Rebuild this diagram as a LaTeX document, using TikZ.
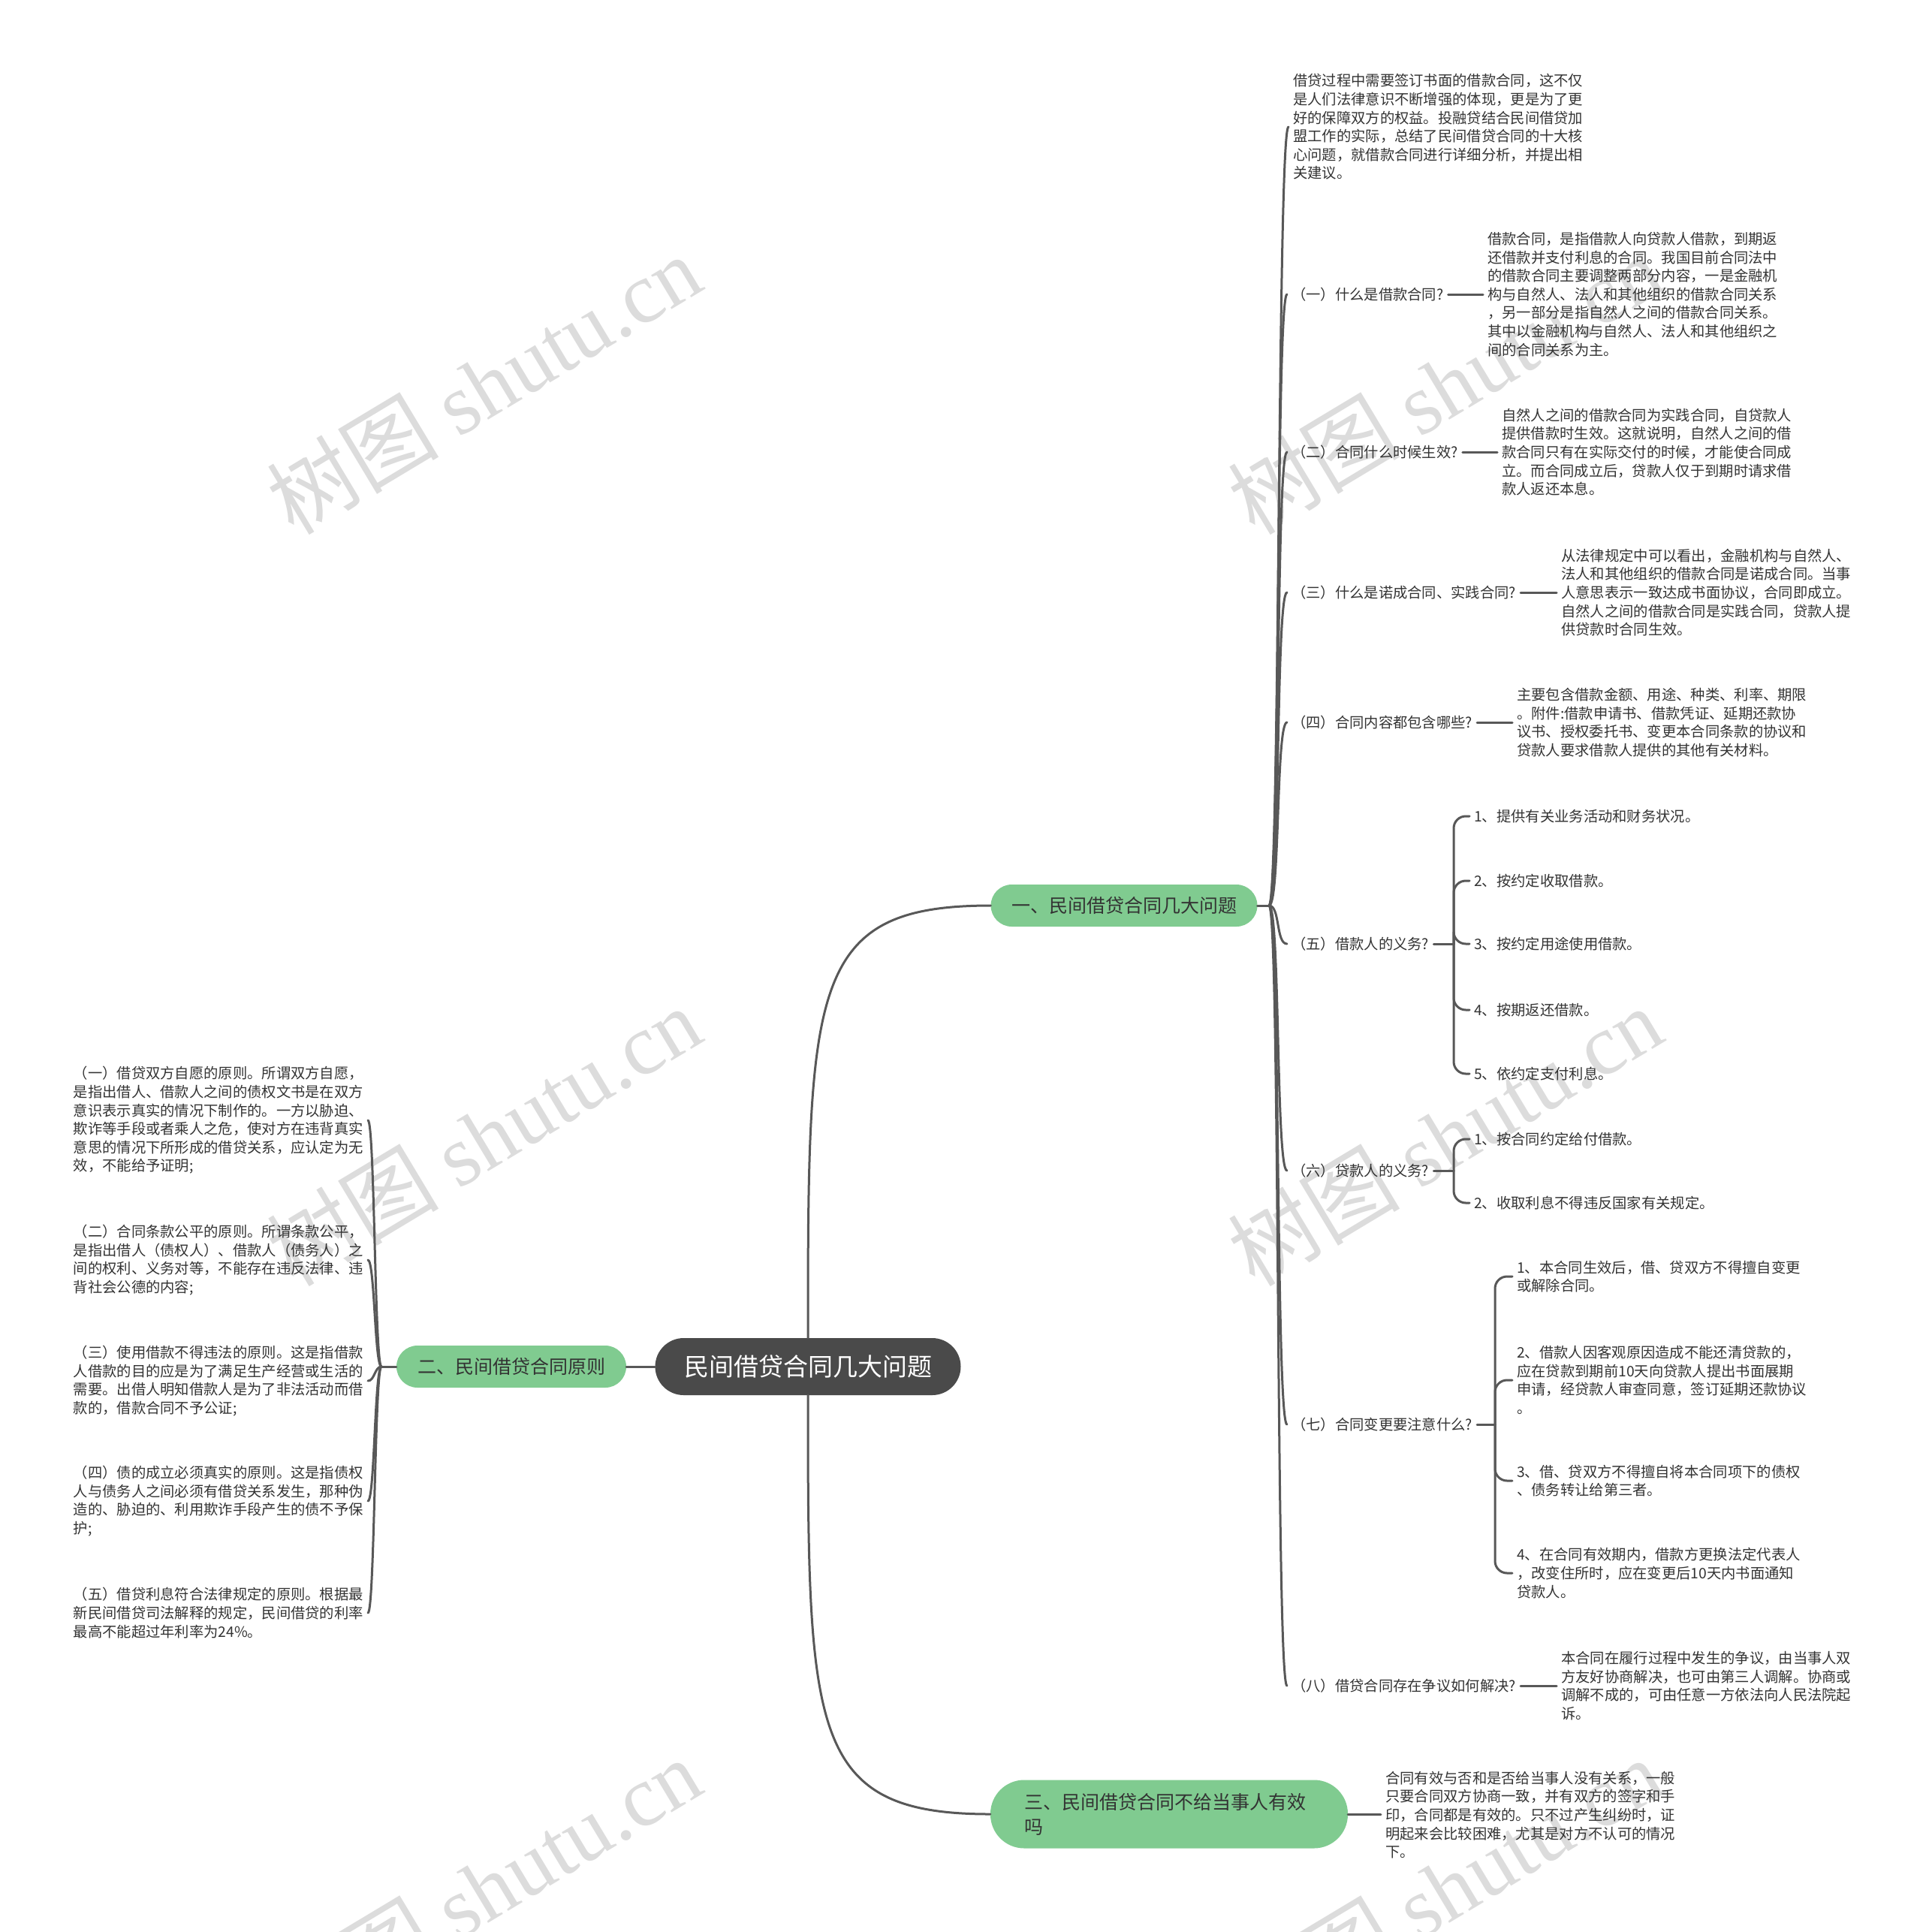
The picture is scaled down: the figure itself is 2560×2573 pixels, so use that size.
\documentclass[tikz,border=0pt]{standalone}
\usepackage{fontspec}
\setmainfont{Noto Sans CJK SC}
\newfontfamily\wmserif{Liberation Serif}
\usetikzlibrary{positioning, calc}
\definecolor{cgreen}{HTML}{80CB90}
\definecolor{cdark}{HTML}{4A4A4A}
\definecolor{cline}{HTML}{585858}
\definecolor{ctext}{HTML}{333333}
\definecolor{cmark}{HTML}{DCDCDC}
\newcommand\smalltxt{\fontsize{19.3pt}{24.6pt}\selectfont}
\newcommand\midtxt{\fontsize{25pt}{33pt}\selectfont}
\newcommand\bigtxt{\fontsize{33pt}{40pt}\selectfont}

\begin{document}
\begin{tikzpicture}[
  x=1pt, y=-1pt,
  root/.style={fill=cdark, text=white, rounded corners=38pt,
               minimum width=407pt, minimum height=76pt, font=\bigtxt},
  topic/.style={fill=cgreen, text=ctext, rounded corners=28pt,
                minimum height=56pt, font=\midtxt},
  ask/.style={font=\smalltxt, text=ctext, anchor=west, inner xsep=6pt},
  note/.style={font=\smalltxt, text=ctext, anchor=west, align=left,
               inner xsep=6pt, inner ysep=2pt},
  leaf/.style={note},
  conn/.style={draw=cline, line width=3pt, line cap=round},
  hook/.style={conn, rounded corners=16pt},
  wmark/.style={text=cmark, rotate=31, font=\fontsize{115pt}{120pt}\selectfont},
]
\useasboundingbox (0,0) rectangle (2560,2573);

\foreach \wx/\wy [count=\i] in {644/512, 1924/512, 644/1513, 1924/1513, 644/2514, 1924/2514}
  \node[wmark] (w\i) at (\wx,\wy) {树图 {\wmserif shutu.cn}};

\node[root] (root) at (1076,1820) {民间借贷合同几大问题};
\node[topic, minimum width=355pt] (t1) at (1497,1206) {一、民间借贷合同几大问题};
\node[topic, minimum width=306pt] (t2) at (681,1820) {二、民间借贷合同原则};
\node[topic, minimum height=91pt, rounded corners=45pt, text width=386pt,
      inner xsep=45pt, align=left] (t3) at (1557,2416)
  {三、民间借贷合同不给当事人有效\\吗};

\coordinate (j1) at (1690,1206);
\coordinate (j2) at (508,1820);

\node[note] (d0) at (1716,169) {借贷过程中需要签订书面的借款合同，这不仅\\是人们法律意识不断增强的体现，更是为了更\\好的保障双方的权益。投融贷结合民间借贷加\\盟工作的实际，总结了民间借贷合同的十大核\\心问题，就借款合同进行详细分析，并提出相\\关建议。};

\node[ask] (q1) at (1714,392) {（一）什么是借款合同?};
\node[note] (d1) at (1975,392) {借款合同，是指借款人向贷款人借款，到期返\\还借款并支付利息的合同。我国目前合同法中\\的借款合同主要调整两部分内容，一是金融机\\构与自然人、法人和其他组织的借款合同关系\\，另一部分是指自然人之间的借款合同关系。\\其中以金融机构与自然人、法人和其他组织之\\间的合同关系为主。};

\node[ask] (q2) at (1714,602) {（二）合同什么时候生效?};
\node[note] (d2) at (1994,602) {自然人之间的借款合同为实践合同，自贷款人\\提供借款时生效。这就说明，自然人之间的借\\款合同只有在实际交付的时候，才能使合同成\\立。而合同成立后，贷款人仅于到期时请求借\\款人返还本息。};

\node[ask] (q3) at (1714,789) {（三）什么是诺成合同、实践合同?};
\node[note] (d3) at (2073,789) {从法律规定中可以看出，金融机构与自然人、\\法人和其他组织的借款合同是诺成合同。当事\\人意思表示一致达成书面协议，合同即成立。\\自然人之间的借款合同是实践合同，贷款人提\\供贷款时合同生效。};

\node[ask] (q4) at (1714,962) {（四）合同内容都包含哪些?};
\node[note] (d4) at (2014,962) {主要包含借款金额、用途、种类、利率、期限\\。附件:借款申请书、借款凭证、延期还款协\\议书、授权委托书、变更本合同条款的协议和\\贷款人要求借款人提供的其他有关材料。};

\node[ask] (q5) at (1714,1257) {（五）借款人的义务?};
\coordinate (j5) at (1936,1257);
\node[leaf] (q5a) at (1957,1087) {1、提供有关业务活动和财务状况。};
\node[leaf] (q5b) at (1957,1173) {2、按约定收取借款。};
\node[leaf] (q5c) at (1957,1257) {3、按约定用途使用借款。};
\node[leaf] (q5d) at (1957,1345) {4、按期返还借款。};
\node[leaf] (q5e) at (1957,1430) {5、依约定支付利息。};

\node[ask] (q6) at (1714,1559) {（六）贷款人的义务?};
\coordinate (j6) at (1936,1559);
\node[leaf] (q6a) at (1957,1517) {1、按合同约定给付借款。};
\node[leaf] (q6b) at (1957,1602) {2、收取利息不得违反国家有关规定。};

\node[ask] (q7) at (1714,1897) {（七）合同变更要注意什么?};
\coordinate (j7) at (1991,1897);
\node[leaf] (q7a) at (2014,1700) {1、本合同生效后，借、贷双方不得擅自变更\\或解除合同。};
\node[leaf] (q7b) at (2014,1838) {2、借款人因客观原因造成不能还清贷款的，\\应在贷款到期前10天向贷款人提出书面展期\\申请，经贷款人审查同意，签订延期还款协议\\。};
\node[leaf] (q7c) at (2014,1972) {3、借、贷双方不得擅自将本合同项下的债权\\、债务转让给第三者。};
\node[leaf] (q7d) at (2014,2095) {4、在合同有效期内，借款方更换法定代表人\\，改变住所时，应在变更后10天内书面通知\\贷款人。};

\node[ask] (q8) at (1714,2245) {（八）借贷合同存在争议如何解决?};
\node[note] (d8) at (2073,2245) {本合同在履行过程中发生的争议，由当事人双\\方友好协商解决，也可由第三人调解。协商或\\调解不成的，可由任意一方依法向人民法院起\\诉。};

\node[note] (e3) at (1839,2417) {合同有效与否和是否给当事人没有关系，一般\\只要合同双方协商一致，并有双方的签字和手\\印，合同都是有效的。只不过产生纠纷时，证\\明起来会比较困难，尤其是对方不认可的情况\\下。};

\node[note, anchor=east] (p1) at (490,1492) {（一）借贷双方自愿的原则。所谓双方自愿，\\是指出借人、借款人之间的债权文书是在双方\\意识表示真实的情况下制作的。一方以胁迫、\\欺诈等手段或者乘人之危，使对方在违背真实\\意思的情况下所形成的借贷关系，应认定为无\\效，不能给予证明;};
\node[note, anchor=east] (p2) at (490,1678) {（二）合同条款公平的原则。所谓条款公平，\\是指出借人（债权人）、借款人（债务人）之\\间的权利、义务对等，不能存在违反法律、违\\背社会公德的内容;};
\node[note, anchor=east] (p3) at (490,1839) {（三）使用借款不得违法的原则。这是指借款\\人借款的目的应是为了满足生产经营或生活的\\需要。出借人明知借款人是为了非法活动而借\\款的，借款合同不予公证;};
\node[note, anchor=east] (p4) at (490,1999) {（四）债的成立必须真实的原则。这是指债权\\人与债务人之间必须有借贷关系发生，那种伪\\造的、胁迫的、利用欺诈手段产生的债不予保\\护;};
\node[note, anchor=east] (p5) at (490,2148) {（五）借贷利息符合法律规定的原则。根据最\\新民间借贷司法解释的规定，民间借贷的利率\\最高不能超过年利率为24\%。};

\draw[conn] (root.north) .. controls +(0,-470) and +(-241,0) .. (t1.west);
\draw[conn] (root.south) .. controls +(0,450) and +(-241,0) .. (t3.west);
\draw[conn] (root) -- (t2);
\draw[conn] (t1) -- (j1);
\draw[conn] (t2) -- (j2);
\draw[conn] (t3) -- (e3);
\foreach \n in {d0,q1,q2,q3,q4,q5,q6,q7,q8}
  \draw[conn] (j1) .. controls +(15,0) and +(-15,0) .. (\n.west);
\foreach \n in {p1,p2,p3,p4,p5}
  \draw[conn] (j2) .. controls +(-9,0) and +(9,0) .. (\n.east);
\draw[conn] (q1) -- (d1); \draw[conn] (q2) -- (d2);
\draw[conn] (q3) -- (d3); \draw[conn] (q4) -- (d4);
\draw[conn] (q8) -- (d8);
\draw[conn] (q5) -- (j5); \draw[conn] (q6) -- (j6); \draw[conn] (q7) -- (j7);
\foreach \n in {q5a,q5b,q5c,q5d,q5e} \draw[hook] (j5) |- (\n.west);
\foreach \n in {q6a,q6b} \draw[hook] (j6) |- (\n.west);
\foreach \n in {q7a,q7b,q7c,q7d} \draw[hook] (j7) |- (\n.west);
\end{tikzpicture}
\end{document}
